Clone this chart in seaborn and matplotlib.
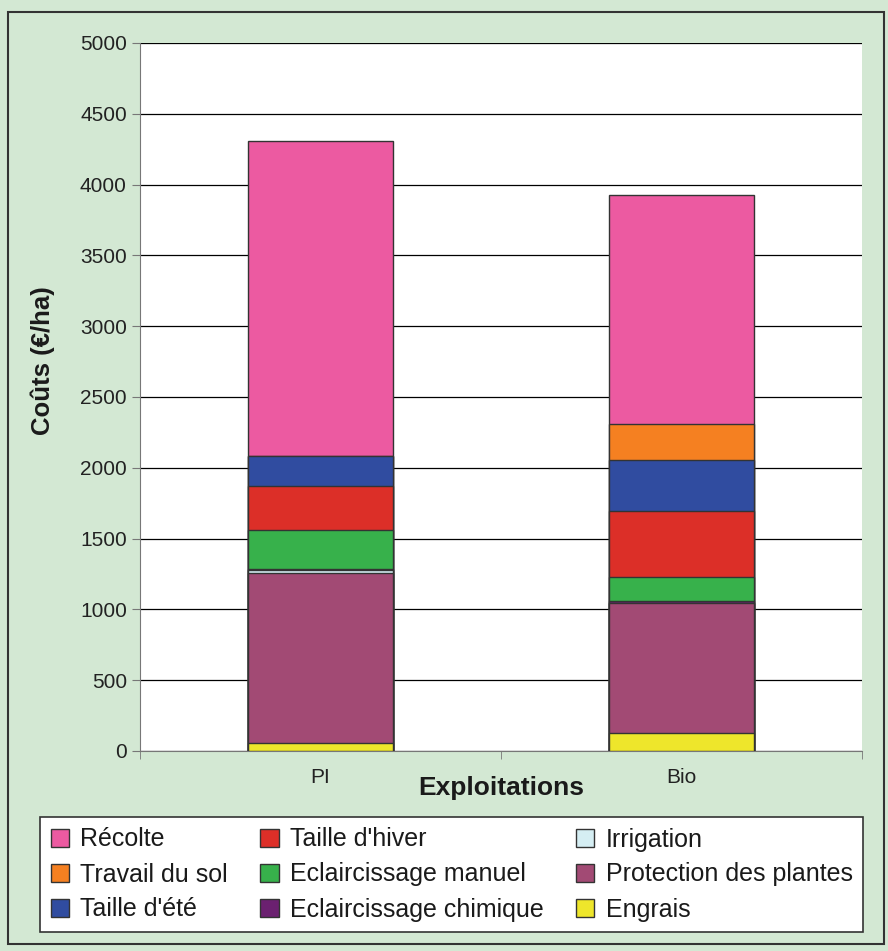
import numpy as np
import pandas as pd
import seaborn as sns
import matplotlib.pyplot as plt
from matplotlib.patches import Rectangle, Patch

exploitations = ['PI', 'Bio']
# couches de bas en haut
postes = ['Engrais', 'Protection des plantes', 'Irrigation', 'Eclaircissage chimique',
          'Eclaircissage manuel', "Taille d'hiver", "Taille d'été", 'Travail du sol', 'Récolte']
engrais = [60, 125]
protection = [1200, 920]
irrigation = [15, 0]
eclair_chimique = [12, 15]
eclair_manuel = [273, 167]
taille_hiver = [315, 468]
taille_ete = [205, 360]
travail_sol = [0, 255]
recolte = [2230, 1620]

couleurs = ['#eee62b', '#a24a74', '#d5eef3', '#6b2070', '#37b14b',
            '#dc2f28', '#304ca0', '#f58021', '#ec5aa1']

valeurs = [engrais, protection, irrigation, eclair_chimique, eclair_manuel,
           taille_hiver, taille_ete, travail_sol, recolte]
cumul = np.cumsum(np.array(valeurs), axis=0)

sns.set_style('white')
plt.rcParams['font.family'] = ['Liberation Sans', 'DejaVu Sans']

fig = plt.figure(figsize=(8.88, 9.51), dpi=100, facecolor='#d3e8d3')
fig.patches.append(Rectangle((0.009, 0.007), 0.987, 0.98, transform=fig.transFigure,
                             fill=False, edgecolor='#333333', linewidth=1.5))
ax = fig.add_axes([140 / 888, 1 - 751 / 951, 722 / 888, 708 / 951])
ax.set_facecolor('white')

# barres empilées : on trace les cumuls du plus haut au plus bas
for i in range(len(postes) - 1, -1, -1):
    df = pd.DataFrame({'Exploitations': exploitations, 'Coûts': cumul[i]})
    sns.barplot(data=df, x='Exploitations', y='Coûts', color=couleurs[i], width=0.4,
                edgecolor='#333333', linewidth=1, saturation=1, ax=ax, zorder=3)

ax.set_xlim(-0.5, 1.5)
ax.set_ylim(0, 5000)
ax.set_yticks(range(0, 5001, 500))
ax.yaxis.grid(True, color='black', linewidth=0.9, zorder=0)
ax.set_axisbelow(True)
for s in ['top', 'right']:
    ax.spines[s].set_visible(False)
ax.spines['left'].set_color('#777777')
ax.spines['bottom'].set_color('#777777')
ax.tick_params(axis='y', left=True, length=6, color='#777777', labelsize=15, labelcolor='#222222')
ax.tick_params(axis='x', bottom=False, labelsize=15, labelcolor='#222222', pad=9)
ax.set_xticks([-0.5, 0.5, 1.5], minor=True)
ax.tick_params(axis='x', which='minor', bottom=True, length=6, color='#777777')
ax.set_xlabel('Exploitations', fontsize=19, fontweight='bold', color='#1a1a1a', va='center')
ax.set_ylabel('Coûts (€/ha)', fontsize=18.5, fontweight='bold', color='#1a1a1a', va='center')
ax.xaxis.set_label_coords(0.5, (751 - 788) / 708)
ax.yaxis.set_label_coords((43 - 140) / 722, (751 - 361) / 708)

ordre = [8, 7, 6, 5, 4, 3, 2, 1, 0]
handles = [Patch(facecolor=couleurs[i], edgecolor='#333333', label=postes[i]) for i in ordre]
leg = fig.legend(handles=handles, ncol=3, loc='upper left',
                 bbox_to_anchor=(40 / 888, 1 - 817 / 951, 823 / 888, 0),
                 mode='expand', fontsize=18, frameon=True, fancybox=False, framealpha=1,
                 facecolor='white', edgecolor='#333333', handlelength=0.75, handleheight=0.75,
                 handletextpad=0.45, columnspacing=1.0, labelspacing=0.44, borderpad=0.42,
                 borderaxespad=0)
leg.get_frame().set_linewidth(1.2)
for t in leg.get_texts():
    t.set_color('#1a1a1a')

fig.savefig('out.png', dpi=100, facecolor=fig.get_facecolor())
